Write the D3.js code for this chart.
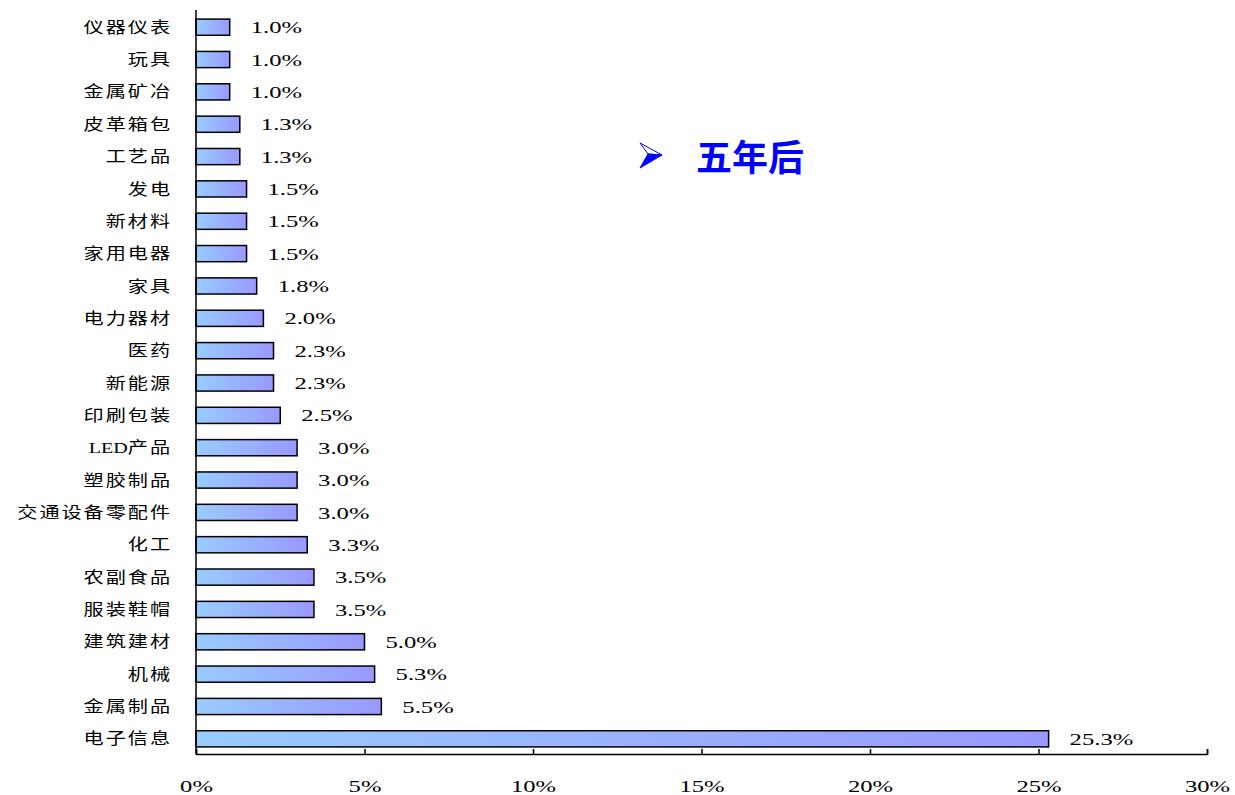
<!DOCTYPE html>
<html>
<head>
<meta charset="utf-8">
<script src="https://cdn.jsdelivr.net/npm/d3@7"></script>
<style>
  body { margin: 0; background: #fff; }
  .cat-label { font-family: "Liberation Serif", "Noto Sans CJK SC", serif; font-size: 15.5px; fill: #000; }
  .val-label { font-family: "Liberation Serif", serif; font-size: 17px; fill: #000; }
  .x-axis text { font-family: "Liberation Serif", serif; font-size: 17px; fill: #000; }
  .x-axis path, .x-axis line { stroke: #000; stroke-width: 1.5px; }
</style>
</head>
<body>
<svg id="chart" width="1235" height="795"></svg>
<script>
// categories, top to bottom
const categories = ['仪器仪表', '玩具', '金属矿冶', '皮革箱包', '工艺品', '发电', '新材料', '家用电器',
  '家具', '电力器材', '医药', '新能源', '印刷包装', 'LED产品', '塑胶制品', '交通设备零配件',
  '化工', '农副食品', '服装鞋帽', '建筑建材', '机械', '金属制品', '电子信息']
const shares = [1.0, 1.0, 1.0, 1.3, 1.3, 1.5, 1.5, 1.5, 1.8, 2.0, 2.3, 2.3, 2.5, 3.0, 3.0, 3.0,
  3.3, 3.5, 3.5, 5.0, 5.3, 5.5, 25.3]
const xTicks = [0, 5, 10, 15, 20, 25, 30]
const title = '五年后'

const data = categories.map((c, i) => ({ name: c, value: shares[i] }))

const svg = d3.select('#chart')

const x = d3.scaleLinear().domain([0, 30]).range([196, 1207])
const y = d3.scaleBand().domain(categories).range([11, 755])
  .paddingInner(0.5).paddingOuter(0.25)

// bar gradient
const grad = svg.append('defs').append('linearGradient')
  .attr('id', 'barGrad')
  .attr('x1', '0%').attr('x2', '100%').attr('y1', '0%').attr('y2', '0%')
grad.append('stop').attr('offset', '0%').attr('stop-color', '#99CCFF')
grad.append('stop').attr('offset', '100%').attr('stop-color', '#9999FF')

// bars
svg.append('g').selectAll('rect')
  .data(data)
  .join('rect')
  .attr('x', x(0))
  .attr('y', d => y(d.name))
  .attr('width', d => x(d.value) - x(0))
  .attr('height', y.bandwidth())
  .attr('fill', 'url(#barGrad)')
  .attr('stroke', '#000')
  .attr('stroke-width', 1.5)

// value labels
svg.append('g').selectAll('text')
  .data(data)
  .join('text')
  .attr('class', 'val-label')
  .attr('transform', d => `translate(${x(d.value) + 21},${y(d.name) + y.bandwidth() / 2}) scale(1.45,1)`)
  .attr('dy', '0.36em')
  .text(d => d.value.toFixed(1) + '%')

// category labels: CJK runs spaced out, latin runs tight
const cats = svg.append('g').selectAll('text')
  .data(data)
  .join('text')
  .attr('class', 'cat-label')
  .attr('text-anchor', 'end')
  .attr('transform', d => `translate(172,${y(d.name) + y.bandwidth() / 2}) scale(1.3,1)`)
  .attr('dy', '0.36em')
cats.selectAll('tspan')
  .data(d => d.name.match(/[A-Za-z0-9]+|[^A-Za-z0-9]+/g))
  .join('tspan')
  .attr('letter-spacing', s => /[A-Za-z0-9]/.test(s) ? 0 : 1.5)
  .text(s => s)

// x axis
const xAxis = svg.append('g')
  .attr('class', 'x-axis')
  .attr('transform', 'translate(0,754)')
  .call(d3.axisBottom(x)
    .tickValues(xTicks)
    .tickSizeInner(-5)
    .tickSizeOuter(-5)
    .tickPadding(26)
    .tickFormat(d => d + '%'))
xAxis.selectAll('text').attr('transform', 'scale(1.45,1)')

// y axis line
svg.append('line')
  .attr('x1', x(0)).attr('x2', x(0))
  .attr('y1', 10).attr('y2', 754)
  .attr('stroke', '#000')
  .attr('stroke-width', 1.5)

// title with arrow bullet
const t = svg.append('g').attr('transform', 'translate(640,143)')
t.append('path')
  .attr('d', 'M0,0 L22,12 L8,11 Z')
  .attr('fill', '#fff')
  .attr('stroke', '#0000FF')
  .attr('stroke-width', 1)
t.append('path')
  .attr('d', 'M22,12 L0,25 L8,11 Z')
  .attr('fill', '#0000FF')
  .attr('stroke', '#0000FF')
  .attr('stroke-width', 1)
svg.append('text')
  .attr('x', 696)
  .attr('y', 171)
  .attr('font-family', '"Noto Sans CJK SC", sans-serif')
  .attr('font-weight', 'bold')
  .attr('font-size', 36)
  .attr('fill', '#0000FF')
  .text(title)
</script>
</body>
</html>
